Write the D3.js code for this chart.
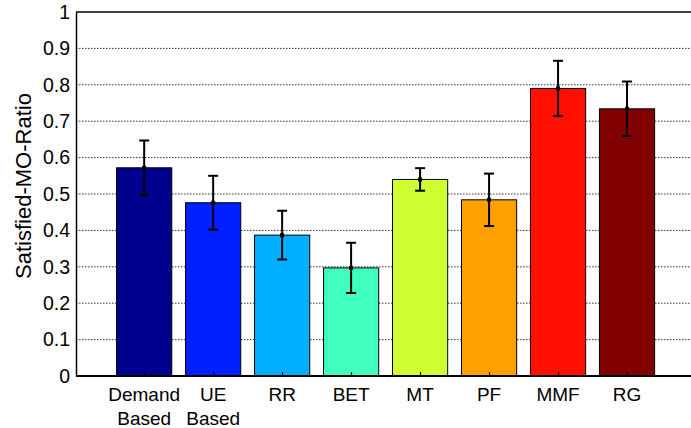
<!DOCTYPE html>
<html>
<head>
<meta charset="utf-8">
<script src="https://d3js.org/d3.v7.min.js"></script>
<style>
  body { margin: 0; background: #fff; }
  text { font-family: "Liberation Sans", Arial, sans-serif; fill: #000; }
</style>
</head>
<body>
<svg id="chart" width="691" height="428"></svg>
<script>
// scheme names (two-line labels are split with \n)
var schemes = ["Demand\nBased", "UE\nBased", "RR", "BET", "MT", "PF", "MMF", "RG"];
var meanRatio = [0.572, 0.476, 0.387, 0.297, 0.540, 0.484, 0.790, 0.734];
var errRatio = [0.075, 0.074, 0.067, 0.069, 0.031, 0.072, 0.076, 0.075];
var barColors = ["#00008f", "#0020ff", "#00afff", "#40ffbf", "#cfff30", "#ffa000", "#ff1000", "#800000"];
var yTicks = [0, 0.1, 0.2, 0.3, 0.4, 0.5, 0.6, 0.7, 0.8, 0.9, 1];

var svg = d3.select("#chart");
var padL = 76, padT = 12, padB = 376;

// bars sit at 1..8 with xlim [0, 9] (right edge runs past the window)
var x = d3.scaleLinear().domain([0, 9]).range([75.2, 696]);
var y = d3.scaleLinear().domain([0, 1]).range([padB, padT]);
var bw = x(0.8) - x(0);

// dotted grid
svg.append("g").selectAll("line")
    .data(yTicks.filter(function (d) { return d > 0 && d < 1; }))
    .join("line")
    .attr("x1", padL).attr("x2", 691)
    .attr("y1", function (d) { return y(d); })
    .attr("y2", function (d) { return y(d); })
    .attr("stroke", "#333")
    .attr("stroke-width", 1)
    .attr("stroke-dasharray", "1.5,1.5");

// bars
svg.append("g").selectAll("rect")
    .data(meanRatio)
    .join("rect")
    .attr("x", function (d, i) { return x(i + 1) - bw / 2; })
    .attr("y", function (d) { return y(d); })
    .attr("width", bw)
    .attr("height", function (d) { return y(0) - y(d); })
    .attr("fill", function (d, i) { return barColors[i]; })
    .attr("stroke", "#000")
    .attr("stroke-width", 1);

// error bars
var eb = svg.append("g").attr("stroke", "#000").attr("stroke-width", 2);
meanRatio.forEach(function (m, i) {
    var cx = x(i + 1);
    var e = errRatio[i];
    eb.append("line").attr("x1", cx).attr("x2", cx).attr("y1", y(m - e)).attr("y2", y(m + e));
    eb.append("line").attr("x1", cx - 5).attr("x2", cx + 5).attr("y1", y(m + e)).attr("y2", y(m + e));
    eb.append("line").attr("x1", cx - 5).attr("x2", cx + 5).attr("y1", y(m - e)).attr("y2", y(m - e));
    eb.append("rect").attr("x", cx - 2).attr("y", y(m) - 2).attr("width", 4).attr("height", 4)
        .attr("fill", "#000").attr("stroke", "none");
});

// top of the axes box
svg.append("line").attr("x1", padL).attr("x2", 691).attr("y1", y(1)).attr("y2", y(1))
    .attr("stroke", "#000").attr("stroke-width", 1.5);

var yAxis = d3.axisLeft(y).tickValues(yTicks).tickSize(0).tickPadding(6)
    .tickFormat(d3.format("~g"));
var gy = svg.append("g").attr("transform", "translate(" + padL + ",0)").call(yAxis);
gy.select(".domain").attr("stroke", "#000").attr("stroke-width", 1.5);
gy.selectAll("text").attr("font-size", 19.5).attr("font-family", "Liberation Sans, Arial, sans-serif");

var xAxis = d3.axisBottom(x).tickValues([1, 2, 3, 4, 5, 6, 7, 8]).tickSize(-4).tickFormat("");
var gx = svg.append("g").attr("transform", "translate(0," + padB + ")").call(xAxis);
gx.select(".domain").attr("d", "M" + padL + ",0H691").attr("stroke", "#000").attr("stroke-width", 2);
gx.selectAll(".tick line").attr("stroke", "#000");

// category labels
svg.append("g").selectAll("text")
    .data(schemes)
    .join("text")
    .attr("text-anchor", "middle")
    .attr("font-size", 19)
    .each(function (d, i) {
        var t = d3.select(this);
        d.split("\n").forEach(function (s, k) {
            t.append("tspan").attr("x", x(i + 1)).attr("y", 401 + k * 24).text(s);
        });
    });

// y label
svg.append("text")
    .attr("transform", "translate(31,186) rotate(-90)")
    .attr("text-anchor", "middle")
    .attr("font-size", 22)
    .text("Satisfied-MO-Ratio");
</script>
</body>
</html>
